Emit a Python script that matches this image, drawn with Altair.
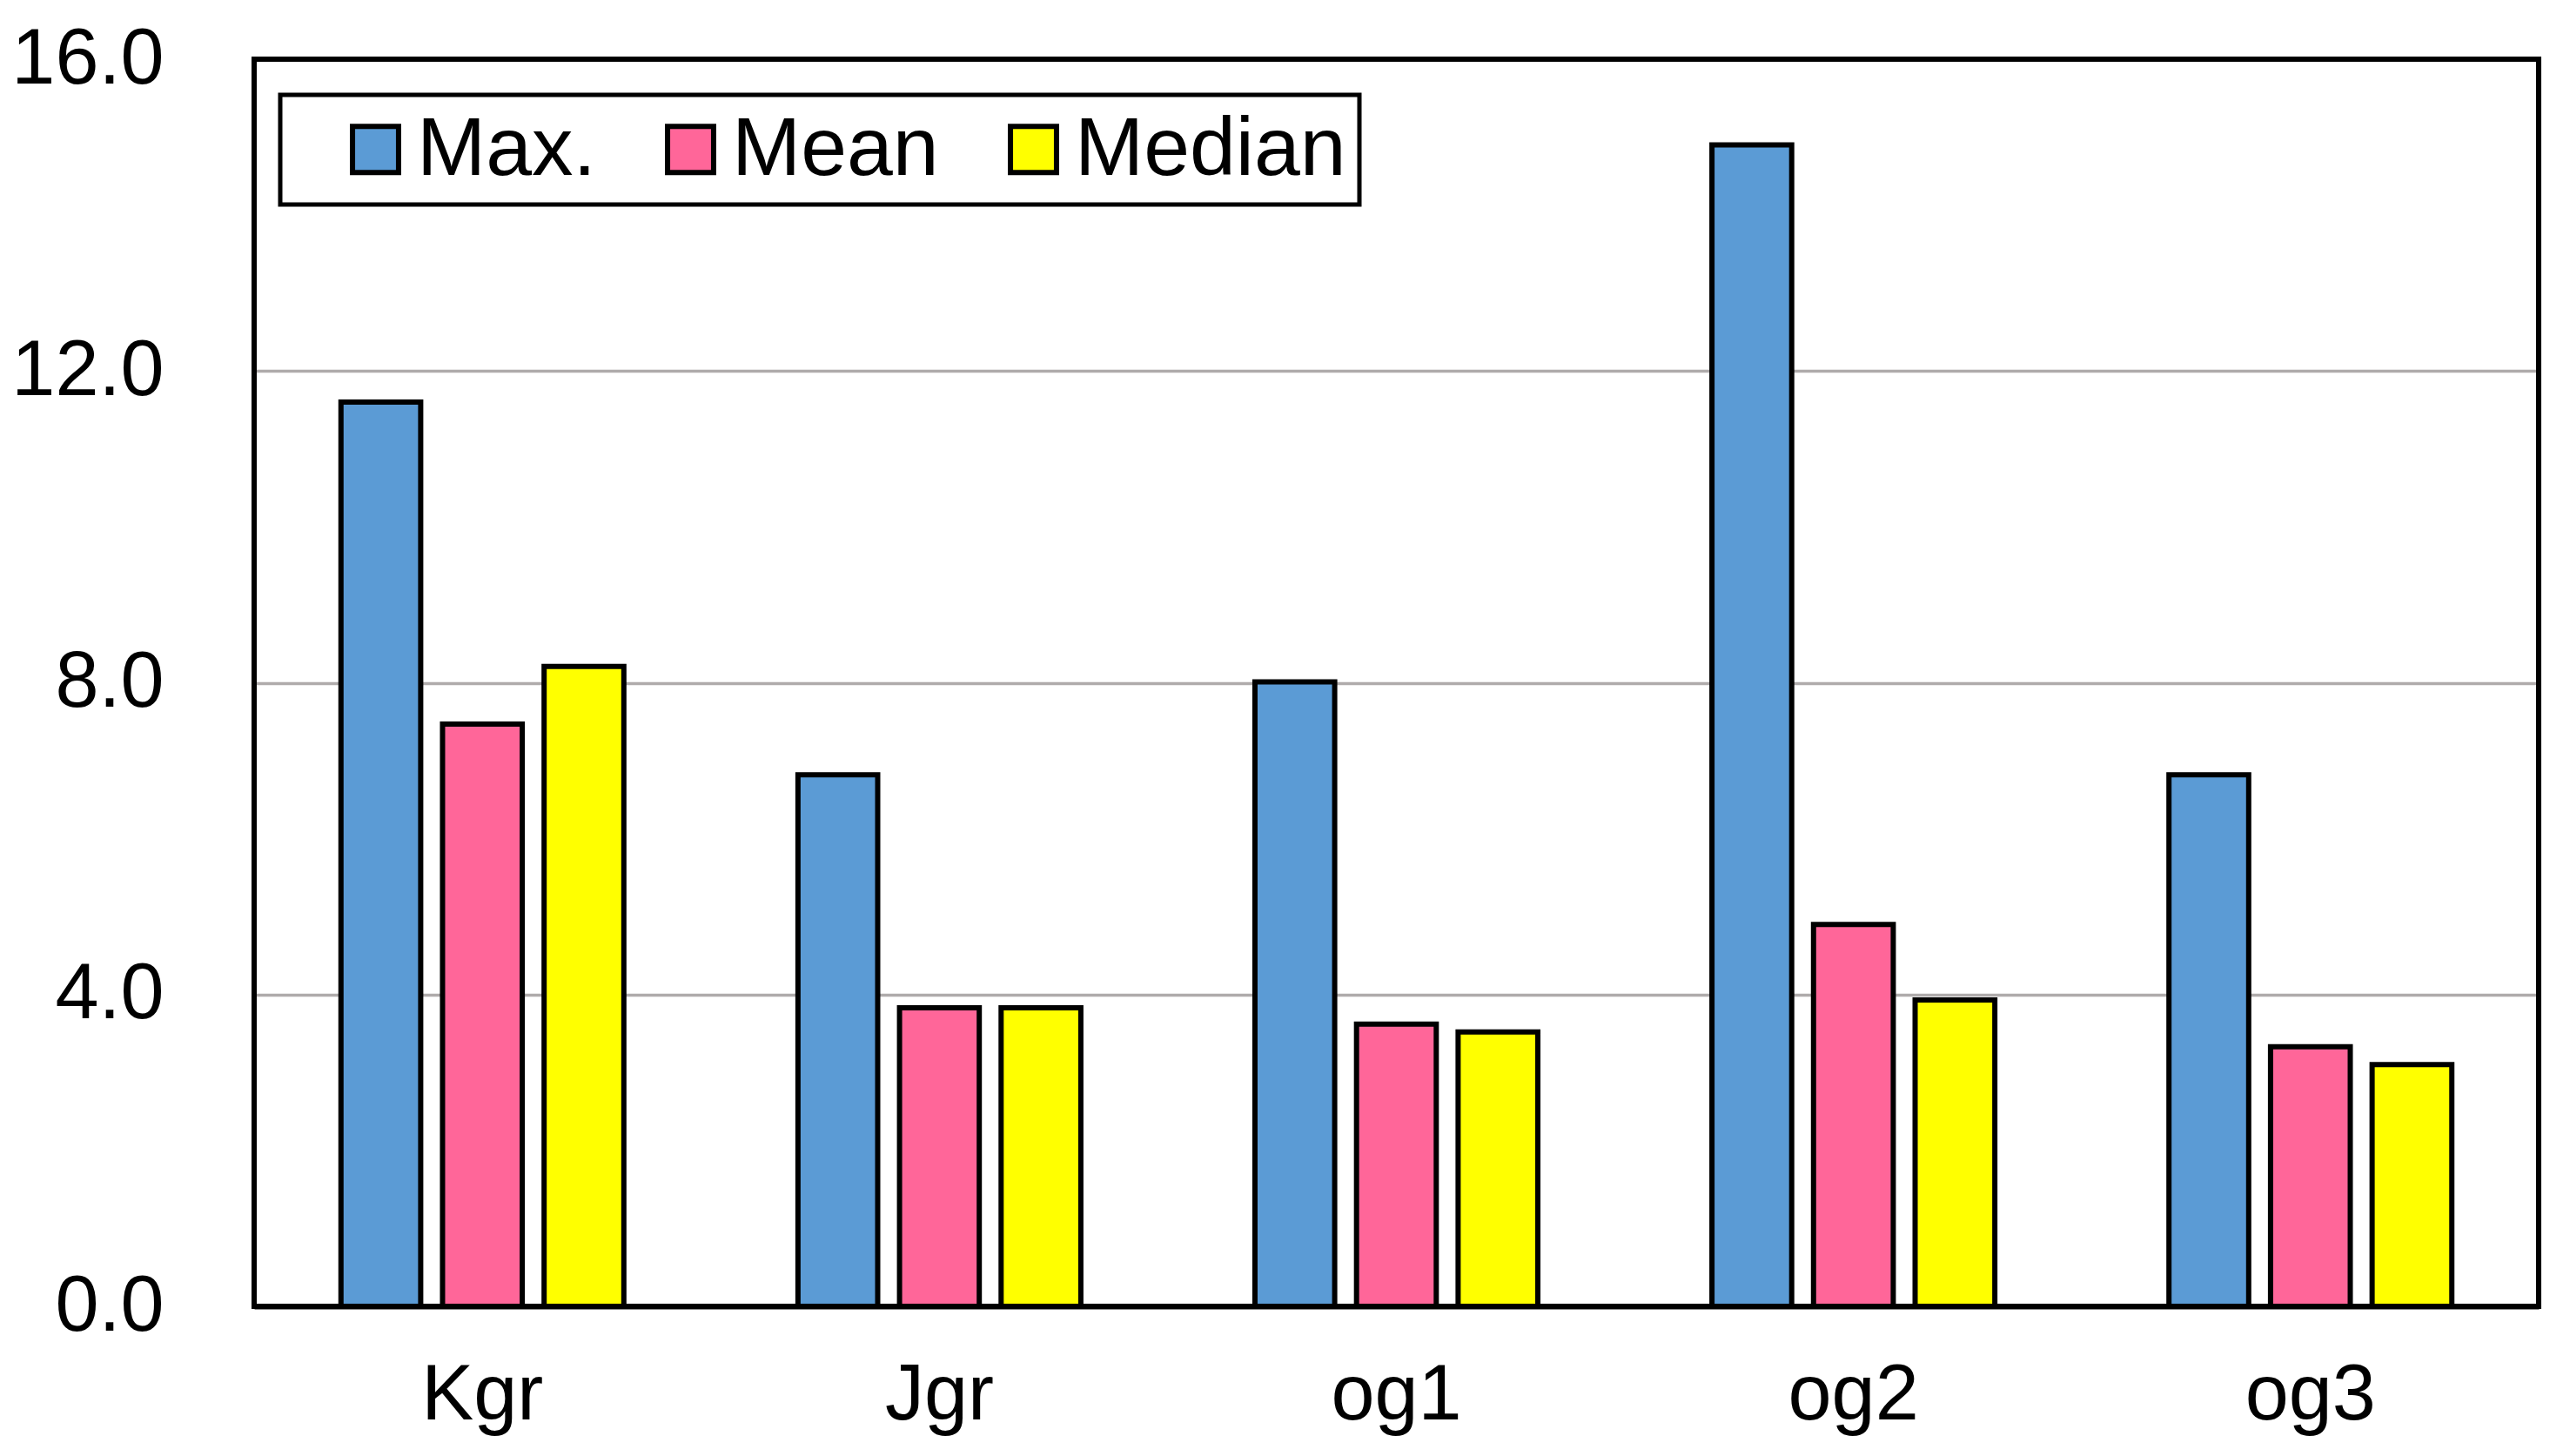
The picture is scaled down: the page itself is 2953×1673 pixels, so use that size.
import altair as alt
import pandas as pd

categories = ["Kgr", "Jgr", "og1", "og2", "og3"]
series = ["Max.", "Mean", "Median"]
max_vals = [11.6, 6.82, 8.01, 14.9, 6.82]
mean_vals = [7.47, 3.83, 3.62, 4.9, 3.33]
median_vals = [8.21, 3.83, 3.52, 3.93, 3.1]
colors = ["#5B9BD5", "#FF6699", "#FFFF00"]
y_ticks = [0, 4, 8, 12, 16]

rows = []
for s, vals in zip(series, [max_vals, mean_vals, median_vals]):
    for c, v in zip(categories, vals):
        rows.append({"cat": c, "series": s, "value": v})
df = pd.DataFrame(rows)

FONT = "Liberation Sans"

bars = alt.Chart(df).mark_bar(stroke="black", strokeWidth=6, opacity=1).encode(
    x=alt.X("cat:N", sort=categories, title=None,
            scale=alt.Scale(paddingInner=0.381, paddingOuter=0.19),
            axis=alt.Axis(labelAngle=0, ticks=False, domain=True, domainColor="black",
                          domainWidth=6, labelFontSize=90, labelFont=FONT,
                          labelColor="black", labelPadding=58, grid=False)),
    xOffset=alt.XOffset("series:N", sort=series,
                        scale=alt.Scale(paddingInner=0.215, paddingOuter=0)),
    y=alt.Y("value:Q", title=None,
            scale=alt.Scale(domain=[0, 16], nice=False),
            axis=alt.Axis(values=y_ticks, format=".1f", ticks=False, domain=False,
                          labelFontSize=90, labelFont=FONT, labelColor="black",
                          labelPadding=104, grid=True, gridColor="#AFABAB",
                          gridWidth=3.5)),
    color=alt.Color("series:N", sort=series,
                    scale=alt.Scale(domain=series, range=colors),
                    legend=alt.Legend(title=None, orient="none", legendX=30, legendY=41,
                                      direction="horizontal", symbolType="square",
                                      symbolSize=2800, symbolStrokeColor="black",
                                      symbolStrokeWidth=6, symbolOpacity=1,
                                      symbolOffset=47,
                                      labelFontSize=95, labelFont=FONT,
                                      labelColor="black", labelOffset=0,
                                      labelLimit=0,
                                      columnPadding=14, padding=15,
                                      strokeColor="black", fillColor="white")),
)

frame = alt.Chart(pd.DataFrame({"f": [0]})).mark_rect(
    filled=False, stroke="black", strokeWidth=6
).encode(
    x=alt.value(0), x2=alt.value("width"), y=alt.value(0), y2=alt.value("height")
)

chart = alt.layer(bars, frame).properties(
    width=2625, height=1433,
    autosize=alt.AutoSizeParams(type="none"),
    padding={"left": 284, "top": 60, "right": 20, "bottom": 160},
).configure_view(
    stroke=None
).configure_legend(
    strokeWidth=5
)

chart.save("out.html", embed_options={"renderer": "svg", "actions": False})
